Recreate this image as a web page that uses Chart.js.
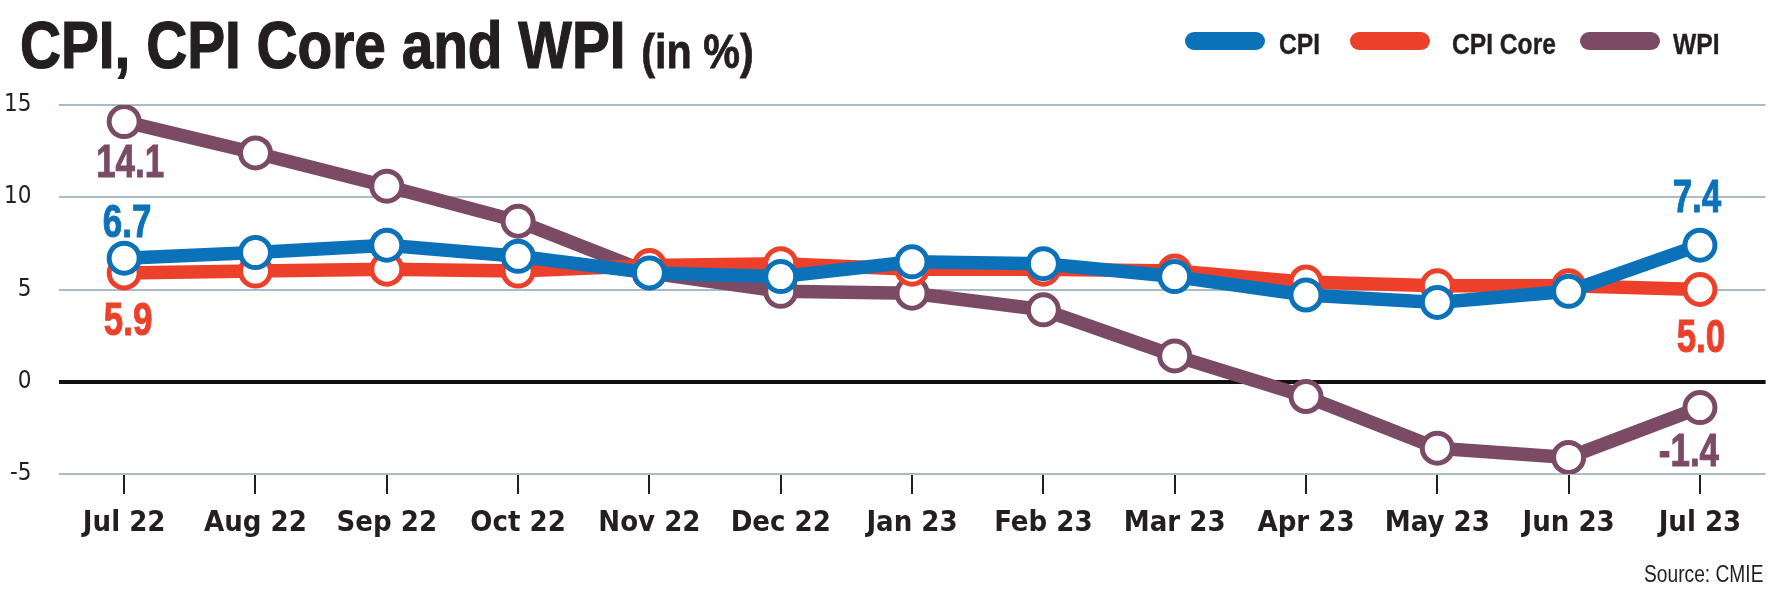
<!DOCTYPE html>
<html>
<head>
<meta charset="utf-8">
<script src="https://cdn.jsdelivr.net/npm/chart.js@4.4.1/dist/chart.umd.min.js"></script>
<style>
  html, body { margin: 0; padding: 0; background: #ffffff; }
  #wrap { position: relative; width: 1786px; height: 591px; overflow: hidden; background: #fff; }
  #c { position: absolute; left: 0; top: 0; }
  .t { position: absolute; font-family: "Liberation Sans", Arial, sans-serif; color: #231f20; white-space: nowrap; }
  #title { left: 20px; top: 11.5px; font-size: 66px; line-height: 66px; font-weight: bold; transform: scaleX(0.86); transform-origin: left top; -webkit-text-stroke: 1.2px #231f20; }
  #title .sub { font-size: 48px; -webkit-text-stroke: 0.8px #231f20; }
  .pill { position: absolute; width: 80px; height: 18px; border-radius: 9px; top: 32px; }
  .lg { font-size: 30px; line-height: 30px; font-weight: bold; top: 28.6px; transform: scaleX(0.82); transform-origin: left top; -webkit-text-stroke: 0.4px #231f20; }
  #source { right: 23px; top: 563px; font-size: 23.7px; line-height: 23.7px; transform: scaleX(0.81); transform-origin: right top; }
</style>
</head>
<body>
<div id="wrap">
  <canvas id="c" width="1786" height="591"></canvas>
  <div id="title" class="t">CPI, CPI Core and WPI <span class="sub">(in %)</span></div>
  <div class="pill" style="left:1185px;background:#0b72ba"></div>
  <div class="t lg" style="left:1279px">CPI</div>
  <div class="pill" style="left:1350px;background:#ec402b"></div>
  <div class="t lg" style="left:1452px">CPI Core</div>
  <div class="pill" style="left:1580px;background:#7b4b66"></div>
  <div class="t lg" style="left:1673px">WPI</div>
  <div id="source" class="t">Source: CMIE</div>
</div>
<script>
const categories = ["Jul 22","Aug 22","Sep 22","Oct 22","Nov 22","Dec 22","Jan 23","Feb 23","Mar 23","Apr 23","May 23","Jun 23","Jul 23"];
const cpi     = [6.7, 7.0, 7.4, 6.8, 5.9, 5.7, 6.5, 6.4, 5.7, 4.7, 4.3, 4.9, 7.4];
const cpiCore = [5.9, 6.0, 6.1, 6.0, 6.3, 6.4, 6.1, 6.1, 6.0, 5.4, 5.2, 5.2, 5.0];
const wpi     = [14.1, 12.4, 10.6, 8.7, 5.9, 4.9, 4.8, 3.9, 1.4, -0.8, -3.6, -4.1, -1.4];
const yMin = -5, yMax = 15, yStep = 5;

const BLUE = "#0b72ba", RED = "#ec402b", PURPLE = "#7b4b66";
const COND = "'DejaVu Sans Condensed', 'DejaVu Sans', sans-serif";
const SANS = "'Liberation Sans', Arial, sans-serif";

function series(label, data, color) {
  return {
    label, data,
    borderColor: color, backgroundColor: color,
    borderWidth: 13.5,
    pointRadius: 15, pointHoverRadius: 15,
    pointBorderWidth: 5, pointBackgroundColor: "#ffffff", pointBorderColor: color,
    tension: 0, fill: false,
    borderJoinStyle: "round", borderCapStyle: "round"
  };
}

// end-point value labels: [datasetIndex, pointIndex, dx, dy(baseline)]
const endLabels = [
  [2, 0, 6, 55], [0, 0, 3, -21], [1, 0, 4, 62],
  [0, 12, -3, -33], [1, 12, 1, 62], [2, 12, -11, 58]
];

const valueLabels = {
  id: "valueLabels",
  afterDatasetsDraw(chart) {
    const ctx = chart.ctx;
    endLabels.forEach(([di, pi, dx, dy]) => {
      const ds = chart.data.datasets[di];
      const pt = chart.getDatasetMeta(di).data[pi];
      ctx.save();
      ctx.font = "bold 46px " + SANS;
      ctx.textAlign = "center";
      ctx.textBaseline = "alphabetic";
      ctx.fillStyle = ds.borderColor;
      ctx.strokeStyle = ds.borderColor;
      ctx.lineWidth = 1;
      ctx.translate(pt.x + dx, pt.y + dy);
      ctx.scale(0.76, 1);
      const txt = ds.data[pi].toFixed(1);
      ctx.fillText(txt, 0, 0);
      ctx.strokeText(txt, 0, 0);
      ctx.restore();
    });
  }
};

new Chart(document.getElementById("c"), {
  type: "line",
  data: {
    labels: categories,
    datasets: [
      series("CPI", cpi, BLUE),
      series("CPI Core", cpiCore, RED),
      series("WPI", wpi, PURPLE)
    ]
  },
  options: {
    responsive: false,
    animation: false,
    devicePixelRatio: 1,
    layout: { padding: { left: 0, right: 20.4, top: 105, bottom: 0 } },
    plugins: { legend: { display: false }, title: { display: false }, tooltip: { enabled: false } },
    scales: {
      x: {
        type: "category",
        offset: true,
        grid: { display: true, drawOnChartArea: false, drawTicks: true, tickLength: 20, color: "#231f20", lineWidth: 2, offset: false },
        border: { display: false },
        ticks: { font: { family: COND, size: 29, weight: "bold" }, color: "#231f20", padding: 12, maxRotation: 0, autoSkip: false },
        afterFit(s) { s.height = 117; }
      },
      y: {
        min: yMin, max: yMax,
        ticks: { stepSize: yStep, font: { family: COND, size: 24 }, color: "#231f20", padding: 27 },
        grid: {
          drawTicks: false,
          color: c => (c.tick && c.tick.value === 0) ? "#111111" : "#a9bccb",
          lineWidth: c => (c.tick && c.tick.value === 0) ? 4 : 2
        },
        border: { display: false },
        afterFit(s) { s.width = 58.5; }
      }
    }
  },
  plugins: [valueLabels]
});
</script>
</body>
</html>
